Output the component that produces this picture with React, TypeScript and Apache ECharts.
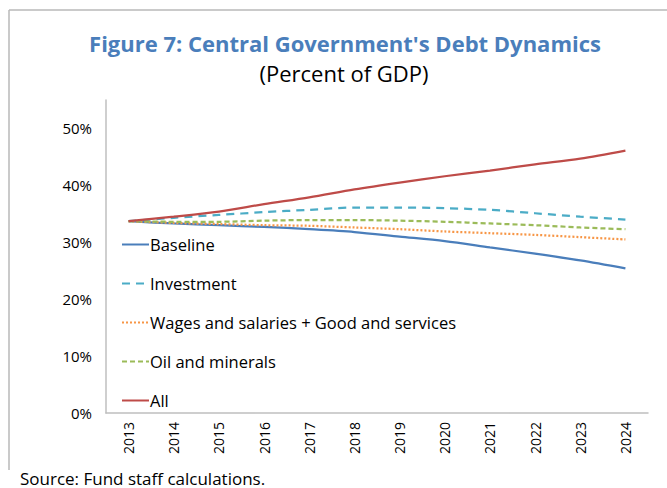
import React, { useEffect, useRef } from "react";
import * as echarts from "echarts";

const years = ["2013", "2014", "2015", "2016", "2017", "2018", "2019", "2020", "2021", "2022", "2023", "2024"];
const baseline = [33.7, 33.3, 33.0, 32.7, 32.3, 31.8, 31.0, 30.2, 29.1, 28.0, 26.8, 25.4];
const investment = [33.7, 34.3, 34.8, 35.3, 35.7, 36.1, 36.1, 36.0, 35.7, 35.1, 34.5, 34.0];
const wages = [33.7, 33.4, 33.2, 33.0, 32.9, 32.6, 32.3, 31.9, 31.6, 31.3, 30.9, 30.5];
const oil = [33.7, 33.6, 33.6, 33.8, 33.9, 33.9, 33.8, 33.6, 33.3, 33.0, 32.6, 32.3];
const all = [33.7, 34.5, 35.4, 36.7, 37.9, 39.3, 40.5, 41.6, 42.6, 43.7, 44.7, 46.1];

const FONT = "'Open Sans', Lato, sans-serif";

export default function App() {
  const ref = useRef<HTMLDivElement>(null);
  useEffect(() => {
    document.body.style.margin = "0";
    const chart = echarts.init(ref.current!, undefined, { renderer: "svg" });
    const mk = (name: string, data: number[], color: string, type: any) => ({
      name,
      type: "line",
      data,
      smooth: 0.3,
      symbol: "none",
      lineStyle: { color, width: 2.25, type },
      itemStyle: { color },
    });
    chart.setOption({
      animation: false,
      textStyle: { fontFamily: FONT },
      grid: { left: 106, right: 19, top: 100, bottom: 75 },
      graphic: [
        { type: "line", shape: { x1: 9, y1: 10, x2: 667, y2: 10 }, style: { stroke: "#b8b8b8", lineWidth: 1.5 } },
        { type: "line", shape: { x1: 9, y1: 10, x2: 9, y2: 470 }, style: { stroke: "#b8b8b8", lineWidth: 1.5 } },
        {
          type: "text", x: 345, y: 43,
          style: { text: "Figure 7: Central Government's Debt Dynamics", fill: "#4A7EBB", font: "bold 22px " + FONT, textAlign: "center", textVerticalAlign: "middle" },
        },
        {
          type: "text", x: 344, y: 73,
          style: { text: "(Percent of GDP)", fill: "#000", font: "22px " + FONT, textAlign: "center", textVerticalAlign: "middle" },
        },
        {
          type: "text", x: 20, y: 478,
          style: { text: "Source: Fund staff calculations.", fill: "#000", font: "17px " + FONT, textAlign: "left", textVerticalAlign: "middle" },
        },
      ],
      legend: {
        orient: "vertical",
        left: 116,
        top: 231,
        itemGap: 22,
        itemWidth: 27,
        itemHeight: 15.5,
        itemStyle: { opacity: 0 },
        textStyle: { fontSize: 16.5, color: "#000", fontFamily: FONT, padding: [0, 0, 0, -4] },
      },
      xAxis: {
        type: "category",
        data: years,
        boundaryGap: true,
        axisLine: { lineStyle: { color: "#bfbfbf", width: 1.5 } },
        axisTick: { show: false },
        axisLabel: { rotate: 90, fontSize: 14, color: "#000", margin: 9, fontFamily: FONT },
      },
      yAxis: {
        type: "value",
        min: 0,
        max: 55,
        interval: 10,
        splitLine: { show: false },
        axisLine: { show: true, lineStyle: { color: "#bfbfbf", width: 1.5 } },
        axisTick: { show: false },
        axisLabel: {
          fontSize: 15, color: "#000", margin: 14, fontFamily: FONT,
          formatter: (v: number) => (v % 10 === 0 ? v + "%" : ""),
        },
      },
      series: [
        mk("Baseline", baseline, "#4A7EBB", "solid"),
        mk("Investment", investment, "#4BACC6", [8, 6]),
        mk("Wages and salaries + Good and services", wages, "#F79646", [2, 2]),
        mk("Oil and minerals", oil, "#9BBB59", [5, 3]),
        mk("All", all, "#BE4B48", "solid"),
      ],
    });
    return () => chart.dispose();
  }, []);
  return <div ref={ref} style={{ width: 667, height: 488, position: "absolute", left: 0, top: 0 }} />;
}
